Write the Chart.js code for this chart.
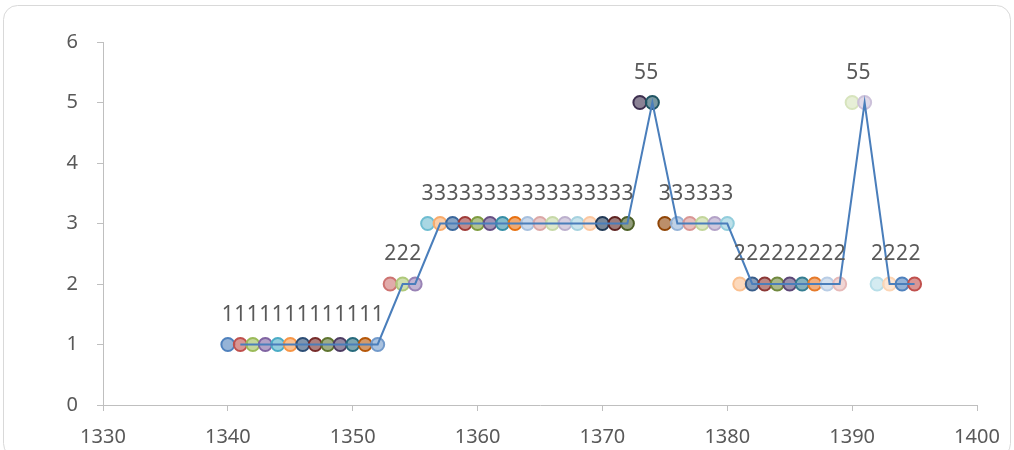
<!DOCTYPE html>
<html>
<head>
<meta charset="utf-8">
<script src="https://cdn.jsdelivr.net/npm/chart.js@4"></script>
<style>
  html, body { margin: 0; padding: 0; background: #ffffff; }
  canvas { display: block; }
</style>
</head>
<body>
<canvas id="c" width="1014" height="450"></canvas>
<script>
// Years and recorded levels
const years = [
  1340, 1341, 1342, 1343, 1344, 1345, 1346, 1347, 1348, 1349, 1350, 1351, 1352,
  1353, 1354, 1355,
  1356, 1357, 1358, 1359, 1360, 1361, 1362, 1363, 1364, 1365, 1366, 1367, 1368, 1369, 1370, 1371, 1372,
  1373, 1374,
  1375, 1376, 1377, 1378, 1379, 1380,
  1381, 1382, 1383, 1384, 1385, 1386, 1387, 1388, 1389,
  1390, 1391,
  1392, 1393, 1394, 1395
];
const levels = [
  1, 1, 1, 1, 1, 1, 1, 1, 1, 1, 1, 1, 1,
  2, 2, 2,
  3, 3, 3, 3, 3, 3, 3, 3, 3, 3, 3, 3, 3, 3, 3, 3, 3,
  5, 5,
  3, 3, 3, 3, 3, 3,
  2, 2, 2, 2, 2, 2, 2, 2, 2,
  5, 5,
  2, 2, 2, 2
];

// Two-period moving average trend line
const trendYears = [
  1341, 1342, 1343, 1344, 1345, 1346, 1347, 1348, 1349, 1350, 1351, 1352,
  1353, 1354, 1355,
  1356, 1357, 1358, 1359, 1360, 1361, 1362, 1363, 1364, 1365, 1366, 1367, 1368, 1369, 1370, 1371, 1372,
  1373, 1374,
  1375, 1376, 1377, 1378, 1379, 1380,
  1381, 1382, 1383, 1384, 1385, 1386, 1387, 1388, 1389,
  1390, 1391,
  1392, 1393, 1394, 1395
];
const trendLevels = [
  1, 1, 1, 1, 1, 1, 1, 1, 1, 1, 1, 1,
  1.5, 2, 2,
  2.5, 3, 3, 3, 3, 3, 3, 3, 3, 3, 3, 3, 3, 3, 3, 3, 3,
  4, 5,
  4, 3, 3, 3, 3, 3,
  2.5, 2, 2, 2, 2, 2, 2, 2, 2,
  3.5, 5,
  3.5, 2, 2, 2
];

// Axis ticks
const xTicks = [1330, 1340, 1350, 1360, 1370, 1380, 1390, 1400];
const yTicks = [0, 1, 2, 3, 4, 5, 6];

// Marker colours, one per point in order
const markerColors = [
  '#4F81BD', '#C0504D', '#9BBB59', '#8064A2', '#4BACC6', '#F79646',
  '#2C4D75', '#772C2A', '#5F7530', '#4D3B62', '#276A7C', '#B65708',
  '#729ACA', '#CD7371', '#AFC97A', '#9983B5', '#6FBDD1', '#F9AB6B',
  '#3A679C', '#9F3B38', '#7E9C40', '#664F83', '#358EA6', '#E8700F',
  '#A7C0DE', '#DBA7A6', '#C7D9A8', '#BCB0CD', '#A6D2DF', '#FBC7A0',
  '#203956', '#5E2321', '#4B5E26', '#3D2F4F', '#1F5463', '#904506',
  '#95B3D7', '#D99694', '#C3D69B', '#B3A2C7', '#92CDDC', '#FAC090',
  '#385D8A', '#8C3836', '#71893F', '#5C4776', '#357D91', '#E67A2A',
  '#B9CDE5', '#E6B9B8', '#D7E4BD', '#CCC1DA', '#B7DEE8', '#FCD5B5',
  '#4F81BD', '#C0504D'
];

function withAlpha(hex, a) {
  const n = parseInt(hex.slice(1), 16);
  return `rgba(${(n >> 16) & 255}, ${(n >> 8) & 255}, ${n & 255}, ${a})`;
}

const textColor = '#595959';
const axisColor = '#BFBFBF';
const fontFamily = '"Noto Sans", "Open Sans", sans-serif';

// White background with a rounded frame
const framePlugin = {
  id: 'frame',
  beforeDraw(chart) {
    const ctx = chart.ctx;
    ctx.save();
    ctx.fillStyle = '#ffffff';
    ctx.fillRect(0, 0, chart.width, chart.height);
    ctx.strokeStyle = '#D9D9D9';
    ctx.lineWidth = 1;
    ctx.beginPath();
    ctx.roundRect(3.5, 5.5, chart.width - 7, chart.height + 2, 14);
    ctx.stroke();
    ctx.restore();
  }
};

// Value labels above each marker
const valueLabelPlugin = {
  id: 'valueLabels',
  afterDatasetsDraw(chart) {
    const meta = chart.getDatasetMeta(1);
    const ctx = chart.ctx;
    ctx.save();
    ctx.font = `21px ${fontFamily}`;
    ctx.fillStyle = textColor;
    ctx.textAlign = 'center';
    ctx.textBaseline = 'alphabetic';
    meta.data.forEach((pt, i) => {
      ctx.fillText(String(levels[i]), pt.x, pt.y - 24);
    });
    ctx.restore();
  }
};

new Chart(document.getElementById('c'), {
  type: 'scatter',
  data: {
    datasets: [
      {
        type: 'line',
        label: 'trend',
        data: trendYears.map((x, i) => ({ x, y: trendLevels[i] })),
        borderColor: '#4A7EBB',
        borderWidth: 2,
        pointRadius: 0,
        tension: 0,
        fill: false,
        order: 0
      },
      {
        label: 'levels',
        data: years.map((x, i) => ({ x, y: levels[i] })),
        backgroundColor: markerColors.map(c => withAlpha(c, 0.6)),
        borderColor: markerColors,
        borderWidth: 2,
        pointRadius: 6.5,
        pointHoverRadius: 6.5,
        showLine: false,
        order: 1
      }
    ]
  },
  options: {
    responsive: false,
    animation: false,
    events: [],
    layout: { padding: { top: 42, right: 37, left: 0, bottom: 0 } },
    plugins: {
      legend: { display: false },
      tooltip: { enabled: false }
    },
    scales: {
      x: {
        type: 'linear',
        min: xTicks[0],
        max: xTicks[xTicks.length - 1],
        afterBuildTicks(scale) { scale.ticks = xTicks.map(v => ({ value: v })); },
        afterFit(scale) { scale.height = 45; },
        ticks: {
          color: textColor,
          font: { family: fontFamily, size: 20 },
          padding: 14,
          maxRotation: 0,
          callback: v => String(v)
        },
        grid: { drawOnChartArea: false, drawTicks: true, tickLength: 6, color: axisColor },
        border: { color: axisColor, width: 1 }
      },
      y: {
        type: 'linear',
        min: yTicks[0],
        max: yTicks[yTicks.length - 1],
        afterBuildTicks(scale) { scale.ticks = yTicks.map(v => ({ value: v })); },
        afterFit(scale) { scale.width = 103; },
        ticks: {
          color: textColor,
          font: { family: fontFamily, size: 20 },
          padding: 19,
          callback: v => String(v)
        },
        grid: { drawOnChartArea: false, drawTicks: true, tickLength: 6, color: axisColor },
        border: { color: axisColor, width: 1 }
      }
    }
  },
  plugins: [framePlugin, valueLabelPlugin]
});
</script>
</body>
</html>
